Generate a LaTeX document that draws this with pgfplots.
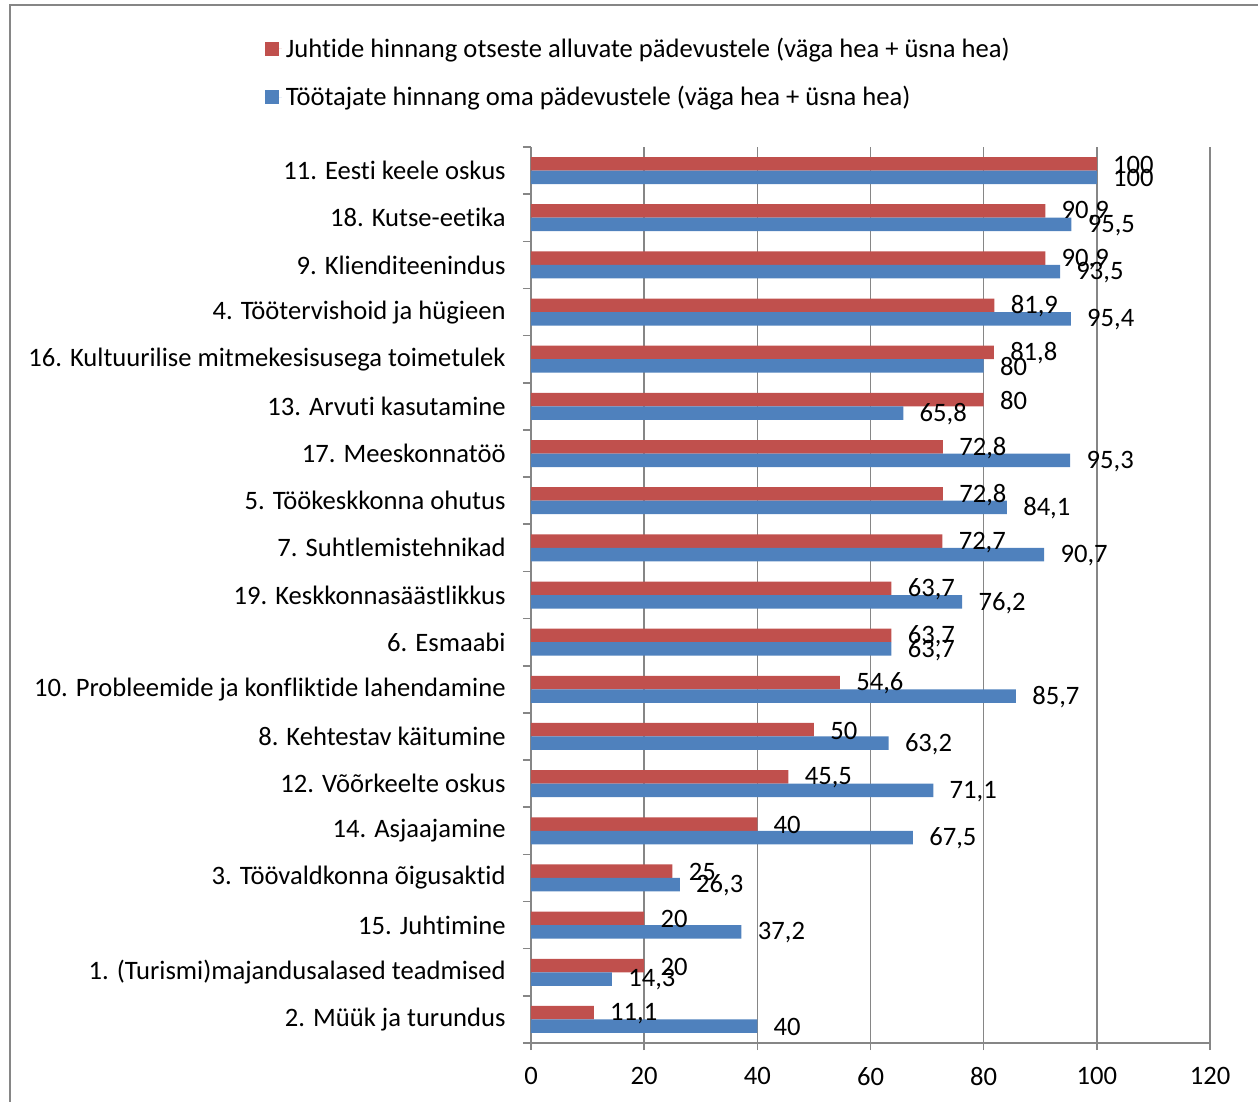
\documentclass[border=0pt]{standalone}
\usepackage{pgfplots}
\pgfplotsset{compat=1.18}
\usepackage{fontspec}
\setmainfont{Carlito}[Ligatures={NoCommon}]
\definecolor{cred}{HTML}{C0504D}
\definecolor{cblue}{HTML}{4F81BD}
\definecolor{cgrid}{HTML}{868686}
\newcommand{\fs}{\fontsize{13.3}{15}\selectfont}
\begin{document}
\begin{tikzpicture}
\useasboundingbox (0,0) rectangle (629pt,-551pt);
\draw[cgrid, line width=1pt] (5pt,-560pt) -- (5pt,-2.5pt) -- (640pt,-2.5pt);
\begin{axis}[
  at={(265.5pt,-521.5pt)}, anchor=south west,
  scale only axis, width=339.5pt, height=448pt,
  xbar, bar width=6.75pt,
  xmin=0, xmax=120, ymin=-0.5, ymax=18.5,
  xtick={0,20,...,120},
  ytick={0,...,18},
  yticklabels={
    2. Müük ja turundus,
    1. (Turismi)majandusalased teadmised,
    15. Juhtimine,
    3. Töövaldkonna õigusaktid,
    14. Asjaajamine,
    12. Võõrkeelte oskus,
    8. Kehtestav käitumine,
    10. Probleemide ja konfliktide lahendamine,
    6. Esmaabi,
    19. Keskkonnasäästlikkus,
    7. Suhtlemistehnikad,
    5. Töökeskkonna ohutus,
    17. Meeskonnatöö,
    13. Arvuti kasutamine,
    16. Kultuurilise mitmekesisusega toimetulek,
    4. Töötervishoid ja hügieen,
    9. Klienditeenindus,
    18. Kutse-eetika,
    11. Eesti keele oskus},
  minor ytick={-0.5,0.5,...,18.5},
  axis lines*=left,
  axis line style={cgrid, line width=0.8pt},
  tick style={cgrid, line width=0.8pt},
  tick align=outside,
  major tick length=3.5pt,
  minor tick length=4pt,
  major y tick style={draw=none},
  xmajorgrids,
  grid style={cgrid, line width=0.8pt},
  tick label style={font=\fs, black},
  yticklabel style={inner sep=0pt, anchor=east, xshift=-9pt},
  xticklabel style={yshift=-5pt},
  /pgf/number format/assume math mode=true,
  /pgf/number format/use comma,
  /pgf/number format/1000 sep={},
  nodes near coords,
  nodes near coords style={font=\fs, black, anchor=west, inner sep=0pt, xshift=8pt, yshift=-0.5pt},
  legend cell align=left,
  legend style={at={(-0.3925,1.127)}, anchor=north west, draw=none, fill=none,
    font=\fs, row sep=9pt, inner sep=0pt},
  legend image code/.code={\fill[#1] (0pt,-3.5pt) rectangle (7pt,3.5pt);\path (0pt,0pt) -- (8.5pt,0pt);},
]
\addplot[fill=cred, draw=none, bar shift=3.375pt] coordinates {
 (11.1,0) (20,1) (20,2) (25,3) (40,4) (45.5,5) (50,6) (54.6,7) (63.7,8) (63.7,9)
 (72.7,10) (72.8,11) (72.8,12) (80,13) (81.8,14) (81.9,15) (90.9,16) (90.9,17) (100,18)};
\addplot[fill=cblue, draw=none, bar shift=-3.375pt] coordinates {
 (40,0) (14.3,1) (37.2,2) (26.3,3) (67.5,4) (71.1,5) (63.2,6) (85.7,7) (63.7,8) (76.2,9)
 (90.7,10) (84.1,11) (95.3,12) (65.8,13) (80,14) (95.4,15) (93.5,16) (95.5,17) (100,18)};
\legend{Juhtide hinnang otseste alluvate pädevustele (väga hea + üsna hea),
Töötajate hinnang oma pädevustele (väga hea + üsna hea)}
\end{axis}
\end{tikzpicture}
\end{document}
